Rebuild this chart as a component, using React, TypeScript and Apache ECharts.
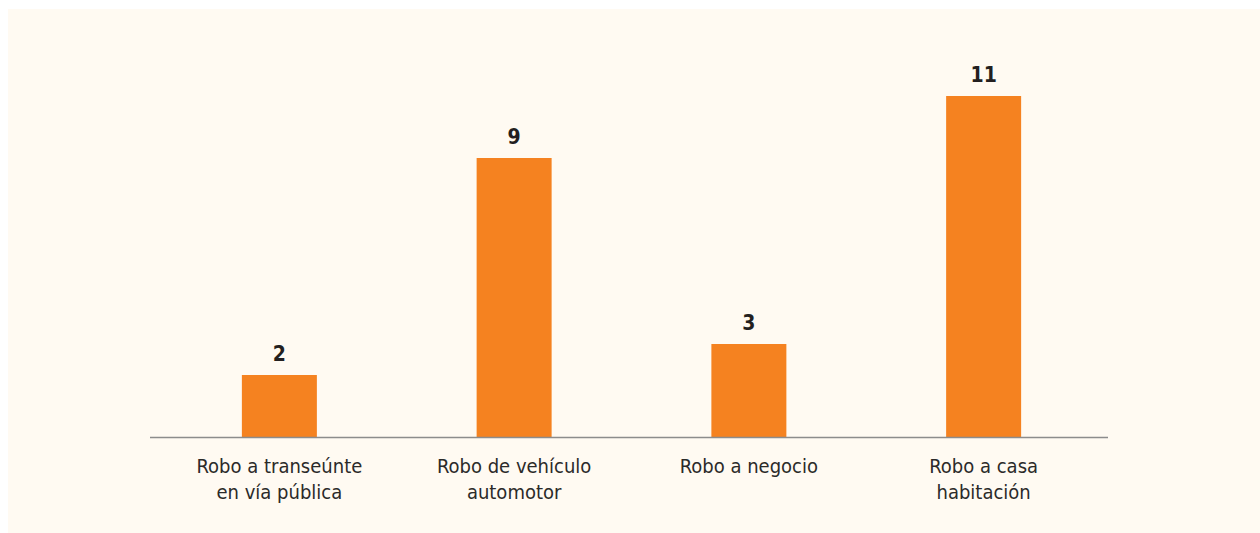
import React, { useEffect, useRef } from "react";
import * as echarts from "echarts";

const categories = [
  "Robo a transeúnte\nen vía pública",
  "Robo de vehículo\nautomotor",
  "Robo a negocio",
  "Robo a casa\nhabitación",
];
const values = [2, 9, 3, 11];

export default function App() {
  const ref = useRef<HTMLDivElement>(null);
  useEffect(() => {
    if (!ref.current) return;
    const chart = echarts.init(ref.current, null, { renderer: "svg" });
    chart.setOption({
      animation: false,
      backgroundColor: "#FFFAF2",
      grid: { left: 154, right: 159, top: 56, bottom: 96, containLabel: false },
      xAxis: {
        type: "category",
        data: categories,
        axisLine: { show: false },
        axisTick: { show: false },
        axisLabel: {
          color: "#2B2A29",
          fontFamily: "'DejaVu Sans Condensed', 'Liberation Sans', sans-serif",
          fontSize: 20,
          lineHeight: 26,
          margin: 16,
          interval: 0,
        },
      },
      yAxis: {
        type: "value",
        min: 0,
        max: 12,
        show: false,
        splitLine: { show: false },
      },
      graphic: [
        {
          type: "line",
          shape: { x1: 142, y1: 428.5, x2: 1100, y2: 428.5 },
          style: { stroke: "#8C8C8C", lineWidth: 1.5 },
          z: 10,
        },
      ],
      series: [
        {
          type: "bar",
          data: values,
          barWidth: 75,
          itemStyle: { color: "#F58220" },
          label: {
            show: true,
            position: "top",
            distance: 11,
            color: "#231F20",
            fontWeight: "bold",
            fontSize: 21,
            fontFamily: "'DejaVu Sans Condensed', 'Liberation Sans', sans-serif",
          },
        },
      ],
    });
    return () => chart.dispose();
  }, []);
  return (
    <div
      ref={ref}
      style={{ position: "fixed", left: 8, top: 9, width: 1252, height: 524 }}
    />
  );
}
